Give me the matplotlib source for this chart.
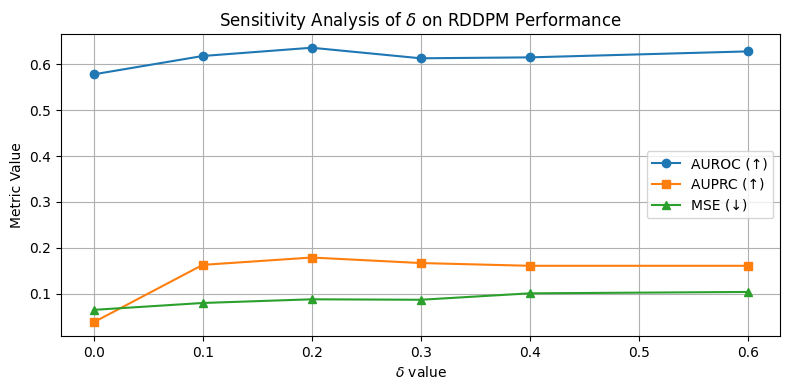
import matplotlib.pyplot as plt

delta = [0.0, 0.1, 0.2, 0.3, 0.4, 0.6]
auroc = [0.578, 0.618, 0.636, 0.613, 0.615, 0.628]
auprc = [0.038, 0.163, 0.179, 0.167, 0.161, 0.161]
mse = [0.065, 0.080, 0.088, 0.087, 0.101, 0.104]

fig, ax = plt.subplots(figsize=(7.9, 3.9), dpi=100)
ax.plot(delta, auroc, marker='o', label='AUROC (↑)')
ax.plot(delta, auprc, marker='s', label='AUPRC (↑)')
ax.plot(delta, mse, marker='^', label='MSE (↓)')
ax.set_xlabel(r'$\delta$ value')
ax.set_ylabel('Metric Value')
ax.set_title(r'Sensitivity Analysis of $\delta$ on RDDPM Performance')
ax.legend(loc='center right')
ax.grid(True)
fig.subplots_adjust(left=0.0772, right=0.9878, top=0.9128, bottom=0.1385)
plt.savefig('out.png')
